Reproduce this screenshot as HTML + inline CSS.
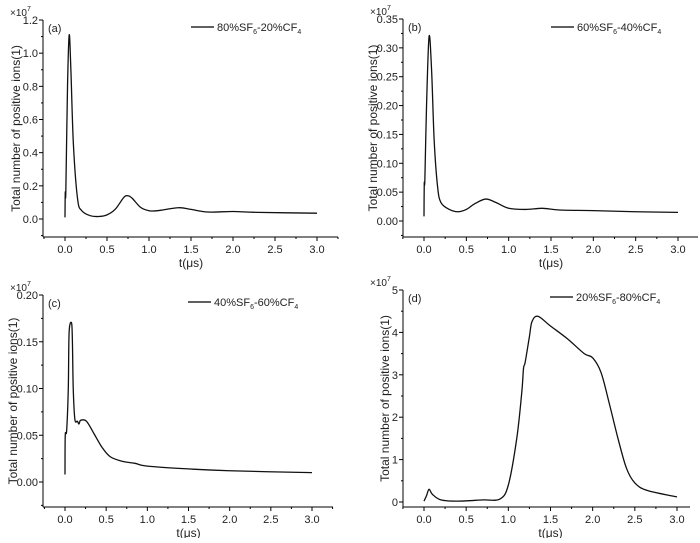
<!DOCTYPE html>
<html><head><meta charset="utf-8"><style>
body{margin:0;background:#fff;width:700px;height:538px;overflow:hidden}
svg{font-family:"Liberation Sans",sans-serif;}
</style></head><body>
<svg id="s" width="700" height="538" xmlns="http://www.w3.org/2000/svg"></svg>
<script>
const S=document.getElementById('s');let h='';
function panel(o){
 const {ax,ayTop,ayBot,x0,x3,xEnd,y0px,ytop,ymax,ticks,dec,label,leg,legX,legY,ylabX,data}=o;
 const X=t=>x0+(x3-x0)*t/3, Y=v=>y0px+(ytop-y0px)*v/ymax;
 h+=`<line x1="${ax}" y1="${ayTop}" x2="${ax}" y2="${ayBot}" stroke="#000" stroke-width="1"/>`;
 h+=`<line x1="${ax}" y1="${ayBot}" x2="${xEnd}" y2="${ayBot}" stroke="#000" stroke-width="1"/>`;
 for(let t=-0.25;t<=3.3;t+=0.25){const x=X(t);if(x<ax-1||x>xEnd+1)continue;const maj=Math.abs(t*2-Math.round(t*2))<1e-6;
  h+=`<line x1="${x}" y1="${ayBot}" x2="${x}" y2="${ayBot+(maj?4:2)}" stroke="#000"/>`;
  if(maj)h+=`<text x="${x}" y="${ayBot+16}" font-size="11" text-anchor="middle" fill="#222">${t.toFixed(1)}</text>`;}
 for(let i=0;i<ticks.length;i++){const v=ticks[i],y=Y(v);
  h+=`<line x1="${ax-4}" y1="${y}" x2="${ax}" y2="${y}" stroke="#000"/>`;
  h+=`<text x="${ax-5}" y="${y+4}" font-size="11" text-anchor="end" fill="#222">${v.toFixed(dec)}</text>`;
  if(i<ticks.length-1){const m=Y((v+ticks[i+1])/2);h+=`<line x1="${ax-2}" y1="${m}" x2="${ax}" y2="${m}" stroke="#000"/>`;}}
 const step=ticks[1]-ticks[0];const ym=Y(-step/2);if(ym<ayBot)h+=`<line x1="${ax-2}" y1="${ym}" x2="${ax}" y2="${ym}" stroke="#000"/>`;
 h+=`<text x="${ax-33}" y="${ayTop-4}" font-size="10" fill="#222">×10<tspan dy="-5" font-size="7">7</tspan></text>`;
 h+=`<text x="${ax+5}" y="${ayTop+12}" font-size="11" fill="#222">${label}</text>`;
 h+=`<line x1="${legX}" y1="${legY}" x2="${legX+23}" y2="${legY}" stroke="#000" stroke-width="1.2"/>`;
 h+=`<text x="${legX+26}" y="${legY+4}" font-size="11" fill="#222">${leg[0]}%SF<tspan font-size="7" dy="3">6</tspan><tspan dy="-3">-${leg[1]}%CF</tspan><tspan font-size="7" dy="3">4</tspan></text>`;
 const cy=(ayTop+ayBot)/2;
 h+=`<text x="${ylabX}" y="${cy}" font-size="12" text-anchor="middle" fill="#222" transform="rotate(-90 ${ylabX} ${cy})">Total number of positive ions(1)</text>`;
 h+=`<text x="${(x0+x3)/2}" y="${ayBot+30}" font-size="12" text-anchor="middle" fill="#222">t(μs)</text>`;
 const P=data.map(d=>[X(d[0]),Y(d[1])]);
 let p=`M${P[0][0]},${P[0][1]}`;
 for(let i=0;i<P.length-1;i++){const a=P[Math.max(0,i-1)],b=P[i],c=P[i+1],d=P[Math.min(P.length-1,i+2)];
  p+=`C${b[0]+(c[0]-a[0])/6},${b[1]+(c[1]-a[1])/6} ${c[0]-(d[0]-b[0])/6},${c[1]-(d[1]-b[1])/6} ${c[0]},${c[1]}`;}
 h+=`<path d="${p}" fill="none" stroke="#111" stroke-width="1.3"/>`;
}
panel({ax:43,ayTop:20,ayBot:237,x0:65,x3:317,xEnd:338,y0px:219,ytop:20,ymax:1.2,ticks:[0,0.2,0.4,0.6,0.8,1.0,1.2],dec:1,label:'(a)',leg:[80,20],legX:191,legY:27,ylabX:20,
 data:[[0,0.01],[0.003,0.16],[0.01,0.17],[0.03,0.8],[0.05,1.11],[0.07,0.9],[0.1,0.45],[0.15,0.12],[0.2,0.05],[0.3,0.02],[0.4,0.015],[0.5,0.025],[0.6,0.06],[0.7,0.13],[0.75,0.14],[0.8,0.125],[0.9,0.07],[1.0,0.05],[1.1,0.05],[1.35,0.068],[1.5,0.058],[1.7,0.042],[2.0,0.045],[2.3,0.04],[3.0,0.035]]});
panel({ax:403,ayTop:19,ayBot:237,x0:424,x3:678,xEnd:698,y0px:221,ytop:19,ymax:0.35,ticks:[0,0.05,0.1,0.15,0.2,0.25,0.3,0.35],dec:2,label:'(b)',leg:[60,40],legX:551,legY:27,ylabX:377,
 data:[[0,0.008],[0.003,0.065],[0.01,0.07],[0.03,0.2],[0.06,0.32],[0.09,0.26],[0.12,0.14],[0.16,0.06],[0.2,0.032],[0.3,0.02],[0.4,0.016],[0.5,0.02],[0.6,0.03],[0.73,0.038],[0.85,0.032],[1.0,0.022],[1.2,0.02],[1.4,0.022],[1.6,0.019],[2.0,0.018],[2.5,0.016],[3.0,0.015]]});
panel({ax:43,ayTop:295,ayBot:507,x0:65,x3:312,xEnd:333,y0px:482,ytop:295,ymax:0.2,ticks:[0,0.05,0.1,0.15,0.2],dec:2,label:'(c)',leg:[40,60],legX:188,legY:302,ylabX:17,
 data:[[0,0.008],[0.003,0.05],[0.02,0.055],[0.04,0.1],[0.05,0.16],[0.08,0.17],[0.09,0.15],[0.1,0.1],[0.12,0.067],[0.15,0.065],[0.17,0.062],[0.19,0.066],[0.26,0.065],[0.35,0.052],[0.45,0.037],[0.55,0.027],[0.7,0.022],[0.85,0.02],[1.0,0.017],[1.5,0.014],[2,0.012],[3,0.01]]});
panel({ax:403,ayTop:290,ayBot:507,x0:424,x3:677,xEnd:690,y0px:502,ytop:290,ymax:5,ticks:[0,1,2,3,4,5],dec:0,label:'(d)',leg:[20,80],legX:550,legY:297,ylabX:389,
 data:[[0,0.02],[0.03,0.15],[0.06,0.3],[0.1,0.18],[0.2,0.05],[0.4,0.02],[0.7,0.05],[0.9,0.07],[1.0,0.4],[1.1,1.5],[1.16,2.6],[1.18,3.15],[1.2,3.3],[1.25,3.9],[1.28,4.25],[1.35,4.38],[1.5,4.15],[1.7,3.85],[1.9,3.5],[2.0,3.4],[2.1,3.05],[2.2,2.3],[2.3,1.5],[2.4,0.8],[2.5,0.45],[2.65,0.27],[3.0,0.12]]});
S.innerHTML=h;
</script>
</body></html>
